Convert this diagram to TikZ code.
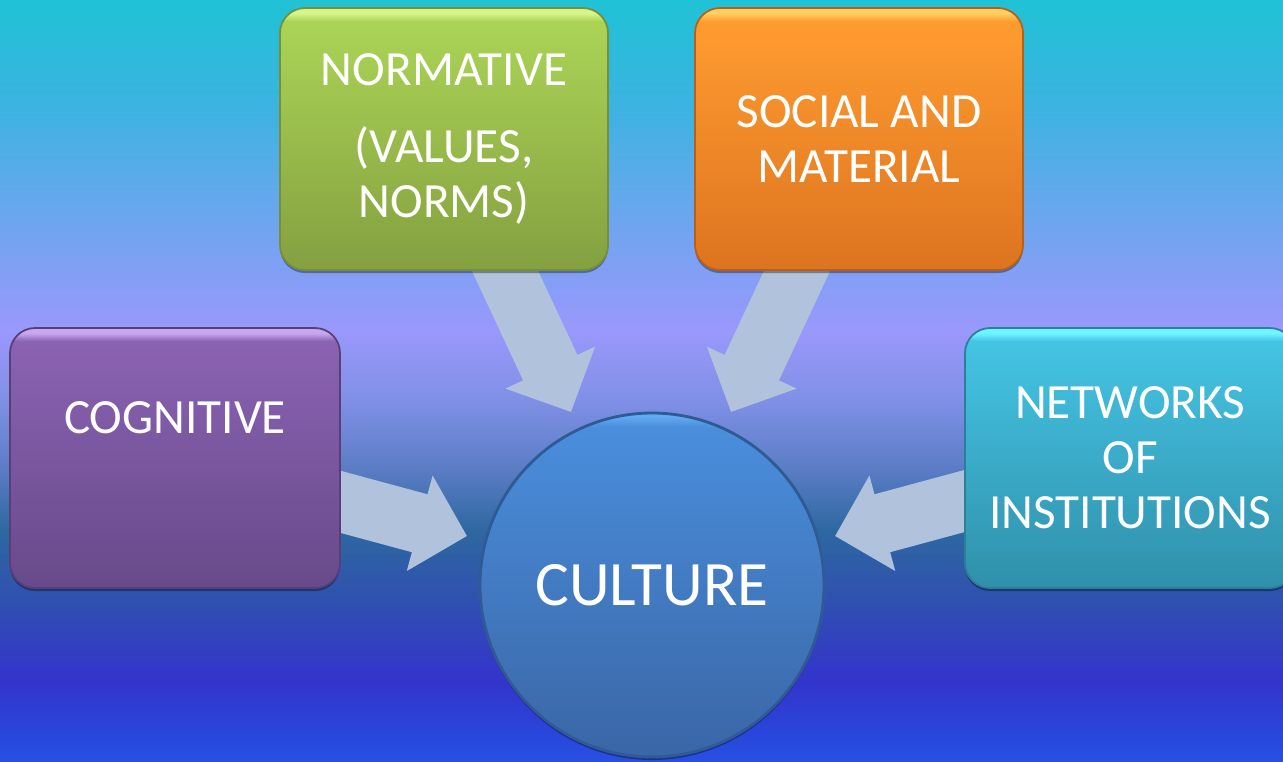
\documentclass[tikz,border=0pt]{standalone}
\usepackage{fontspec}
\setmainfont{Carlito}
\usetikzlibrary{arrows.meta,calc,shadows}
% background stops
\definecolor{bgA}{HTML}{20C2D6}
\definecolor{bgB}{HTML}{3AB4E0}
\definecolor{bgC}{HTML}{64A8EC}
\definecolor{bgD}{HTML}{9A98FC}
\definecolor{bgE}{HTML}{8090E6}
\definecolor{bgF}{HTML}{5A7CC4}
\definecolor{bgG}{HTML}{2E68A0}
\definecolor{bgH}{HTML}{2F50B0}
\definecolor{bgI}{HTML}{3434CC}
\definecolor{bgJ}{HTML}{2848DC}
\definecolor{bgK}{HTML}{2850E2}
% boxes
\definecolor{gT}{HTML}{ABD456}
\definecolor{gB}{HTML}{84A040}
\definecolor{gHi}{HTML}{D8F58A}
\definecolor{gD}{HTML}{768F38}
\definecolor{oT}{HTML}{FF9C30}
\definecolor{oB}{HTML}{DC7420}
\definecolor{oHi}{HTML}{FFD060}
\definecolor{oD}{HTML}{B86018}
\definecolor{pT}{HTML}{8A62B2}
\definecolor{pB}{HTML}{684A8A}
\definecolor{pHi}{HTML}{C8A8F0}
\definecolor{pD}{HTML}{5A3E78}
\definecolor{cT}{HTML}{44C4E4}
\definecolor{cB}{HTML}{3090AA}
\definecolor{cHi}{HTML}{70F4FF}
\definecolor{cD}{HTML}{2A8098}
\definecolor{uT}{HTML}{4A8EDC}
\definecolor{uB}{HTML}{3A66A6}
\definecolor{uHi}{HTML}{62AAF2}
\definecolor{uD}{HTML}{2F5A94}
\definecolor{arrowc}{HTML}{B0C2DC}
\pgfdeclareverticalshading{gbox}{100bp}{color(0bp)=(gB); color(25bp)=(gB); color(72.5bp)=(gT); color(74bp)=(gHi); color(100bp)=(gHi)}
\pgfdeclareverticalshading{obox}{100bp}{color(0bp)=(oB); color(25bp)=(oB); color(72.5bp)=(oT); color(74bp)=(oHi); color(100bp)=(oHi)}
\pgfdeclareverticalshading{pbox}{100bp}{color(0bp)=(pB); color(25bp)=(pB); color(72.5bp)=(pT); color(74bp)=(pHi); color(100bp)=(pHi)}
\pgfdeclareverticalshading{cbox}{100bp}{color(0bp)=(cB); color(25bp)=(cB); color(72.5bp)=(cT); color(74bp)=(cHi); color(100bp)=(cHi)}
\pgfdeclareverticalshading{ubox}{100bp}{color(0bp)=(uB); color(25bp)=(uB); color(73bp)=(uT); color(74.5bp)=(uHi); color(100bp)=(uHi)}
\pgfdeclarelayer{background}
\pgfdeclarelayer{arrows}
\pgfsetlayers{background,arrows,main}
\begin{document}
\begin{tikzpicture}[
  box/.style={rectangle, rounded corners=0.25cm, minimum width=3.28cm,
    minimum height=2.62cm, inner sep=0pt, text=white, align=center,
    font=\fontsize{14}{15.65}\selectfont,
    drop shadow={shadow xshift=0pt, shadow yshift=-0.03cm, opacity=0.35, fill=black}},
  culturenode/.style={circle, minimum size=3.44cm, inner sep=0pt, text=white,
    font=\fontsize{18}{20}\selectfont, shading=ubox, draw=uD, line width=0.8pt,
    drop shadow={shadow xshift=0pt, shadow yshift=-0.03cm, opacity=0.35, fill=black}},
  bigarrow/.style={draw=arrowc, line width=0.6cm,
    -{Triangle[width=0.96cm,length=0.49cm]}}
]
\useasboundingbox (0,0) rectangle (12.83,-7.61);
\begin{pgfonlayer}{background}
\shade[top color=bgA,bottom color=bgB] (0,0.01) rectangle (12.84,-1.005);
\shade[top color=bgB,bottom color=bgC] (-0.01,-1.0) rectangle (12.84,-2.005);
\shade[top color=bgC,bottom color=bgD] (-0.01,-2.0) rectangle (12.84,-3.305);
\shade[top color=bgD,bottom color=bgE] (-0.01,-3.3) rectangle (12.84,-4.005);
\shade[top color=bgE,bottom color=bgF] (-0.01,-4.0) rectangle (12.84,-4.705);
\shade[top color=bgF,bottom color=bgG] (-0.01,-4.7) rectangle (12.84,-5.305);
\shade[top color=bgG,bottom color=bgH] (-0.01,-5.3) rectangle (12.84,-6.005);
\shade[top color=bgH,bottom color=bgI] (-0.01,-6.0) rectangle (12.84,-6.805);
\shade[top color=bgI,bottom color=bgJ] (-0.01,-6.8) rectangle (12.84,-7.405);
\shade[top color=bgJ,bottom color=bgK] (-0.01,-7.4) rectangle (12.84,-7.62);
\end{pgfonlayer}

\node[box, shading=gbox, draw=gD, line width=0.5pt] (norm) at (4.44,-1.39)
  {NORMATIVE\\[6.5pt](VALUES,\\NORMS)};
\node[box, shading=obox, draw=oD, line width=0.5pt] (soc) at (8.59,-1.39)
  {SOCIAL AND\\MATERIAL};
\node[box, shading=pbox, draw=pD, line width=0.5pt, minimum width=3.30cm,
  minimum height=2.60cm, text height=0.35cm, text depth=0.85cm] (cog) at (1.75,-4.58)
  {COGNITIVE};
\node[box, shading=cbox, draw=cD, line width=0.5pt, minimum width=3.30cm,
  minimum height=2.60cm] (net) at (11.30,-4.58)
  {NETWORKS\\OF\\INSTITUTIONS};
\node[culturenode] (cult) at (6.52,-5.85) {CULTURE};

\begin{pgfonlayer}{arrows}
\draw[bigarrow] ($(norm.south)+(0.54,0.15)$) -- ($(cult.center)+(-0.81,1.73)$);
\draw[bigarrow] ($(soc.south)+(-0.55,0.15)$) -- ($(cult.center)+(0.79,1.73)$);
\draw[bigarrow] ($(cog.east)+(-0.2,-0.385)$) -- ($(cult.center)+(-1.85,0.49)$);
\draw[bigarrow] ($(net.west)+(0.17,-0.385)$) -- ($(cult.center)+(1.83,0.49)$);
\end{pgfonlayer}
\end{tikzpicture}
\end{document}
